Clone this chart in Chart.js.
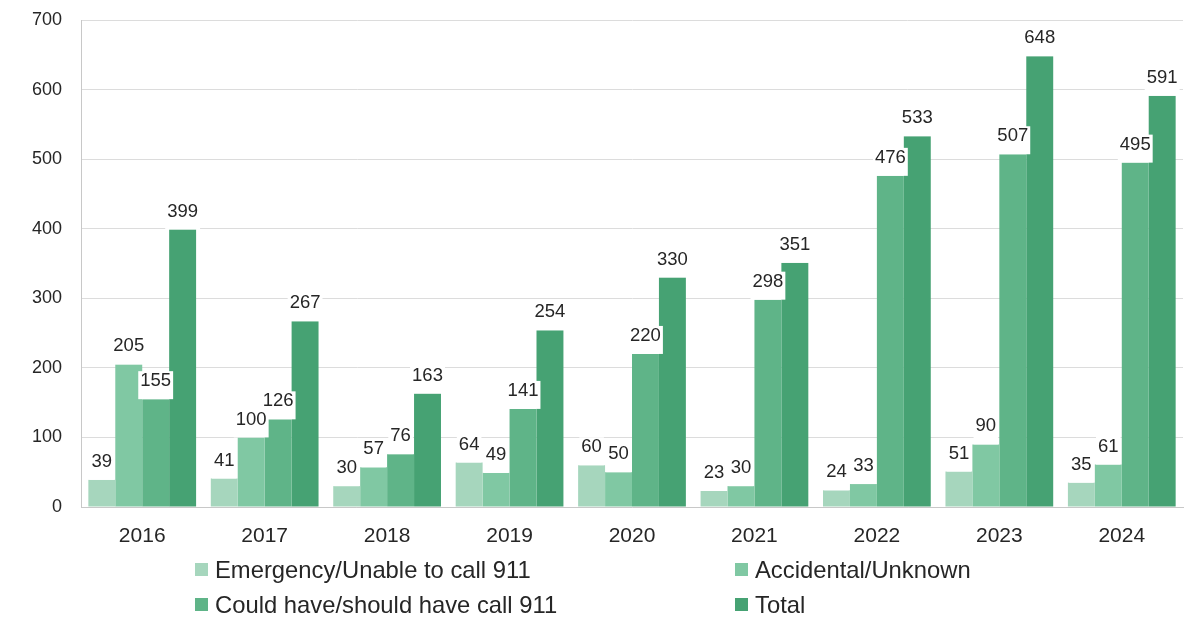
<!DOCTYPE html>
<html>
<head>
<meta charset="utf-8">
<style>
  html, body { margin: 0; padding: 0; background: #ffffff; }
  #wrap { width: 1202px; height: 618px; position: relative; }
</style>
<script src="https://cdn.jsdelivr.net/npm/chart.js@4.4.1/dist/chart.umd.min.js"></script>
</head>
<body>
<div id="wrap"><canvas id="chart" width="1202" height="618"></canvas></div>
<script>
// Categories and series
const years = ['2016', '2017', '2018', '2019', '2020', '2021', '2022', '2023', '2024'];
const seriesNames = [
  'Emergency/Unable to call 911',
  'Accidental/Unknown',
  'Could have/should have call 911',
  'Total'
];
const emergency = [39, 41, 30, 64, 60, 23, 24, 51, 35];
const accidental = [205, 100, 57, 49, 50, 30, 33, 90, 61];
const couldHave = [155, 126, 76, 141, 220, 298, 476, 507, 495];
const total = [399, 267, 163, 254, 330, 351, 533, 648, 591];
const yTicks = [0, 100, 200, 300, 400, 500, 600, 700];

const fills = ['#a6d6bd', '#80c8a3', '#5fb488', '#46a273'];
const textColor = '#262626';
const baseFont = "'Liberation Sans', Arial, sans-serif";

// Value labels: white boxes first, then all the numbers on top
const valueLabels = {
  id: 'valueLabels',
  afterDatasetsDraw(chart) {
    const ctx = chart.ctx;
    ctx.save();
    ctx.font = '18.5px ' + baseFont;
    ctx.textAlign = 'center';
    ctx.textBaseline = 'middle';
    const items = [];
    chart.data.datasets.forEach((ds, di) => {
      chart.getDatasetMeta(di).data.forEach((bar, i) => {
        items.push({ x: bar.x, y: bar.y, txt: String(ds.data[i]) });
      });
    });
    ctx.fillStyle = '#ffffff';
    items.forEach(it => {
      const w = ctx.measureText(it.txt).width + 4;
      ctx.fillRect(it.x - w / 2, it.y - 28, w, 28);
    });
    ctx.fillStyle = textColor;
    items.forEach(it => ctx.fillText(it.txt, it.x, it.y - 18));
    ctx.restore();
  }
};

// Two-column legend under the plot
const gridLegend = {
  id: 'gridLegend',
  afterDraw(chart) {
    const ctx = chart.ctx;
    ctx.save();
    ctx.font = '23.8px ' + baseFont;
    ctx.textBaseline = 'middle';
    ctx.textAlign = 'left';
    const cols = [195, 735];
    const rows = [570, 605];
    chart.data.datasets.forEach((ds, di) => {
      const x = cols[di % 2];
      const y = rows[Math.floor(di / 2)];
      ctx.fillStyle = ds.backgroundColor;
      ctx.fillRect(x, y - 7, 13, 13);
      ctx.fillStyle = textColor;
      ctx.fillText(ds.label, x + 20, y + 1);
    });
    ctx.restore();
  }
};

const seriesValues = [emergency, accidental, couldHave, total];

new Chart(document.getElementById('chart'), {
  type: 'bar',
  data: {
    labels: years,
    datasets: seriesValues.map((vals, k) => ({
      label: seriesNames[k],
      data: vals,
      backgroundColor: fills[k],
      borderWidth: 0,
      categoryPercentage: 0.88,
      barPercentage: 1.0
    }))
  },
  options: {
    responsive: false,
    animation: false,
    devicePixelRatio: 1,
    layout: { padding: { top: 20, right: 19, bottom: 70, left: 0 } },
    plugins: {
      legend: { display: false },
      tooltip: { enabled: false }
    },
    scales: {
      x: {
        grid: { display: false, drawTicks: false },
        border: { display: true, color: '#c8c8c8', width: 1 },
        ticks: { color: textColor, font: { size: 21, family: baseFont }, padding: 17 },
        afterFit(scale) { scale.height = 41; }
      },
      y: {
        min: 0,
        max: 700,
        afterBuildTicks(scale) { scale.ticks = yTicks.map(v => ({ value: v })); },
        grid: { color: '#dcdcdc', drawTicks: false, lineWidth: 1 },
        border: { display: true, color: '#c8c8c8', width: 1 },
        ticks: { color: textColor, font: { size: 18, family: baseFont }, padding: 19 },
        afterFit(scale) {
          scale.width = 81;
          scale.paddingTop = 0;
          scale.paddingBottom = 0;
        }
      }
    }
  },
  plugins: [valueLabels, gridLegend]
});
</script>
</body>
</html>
